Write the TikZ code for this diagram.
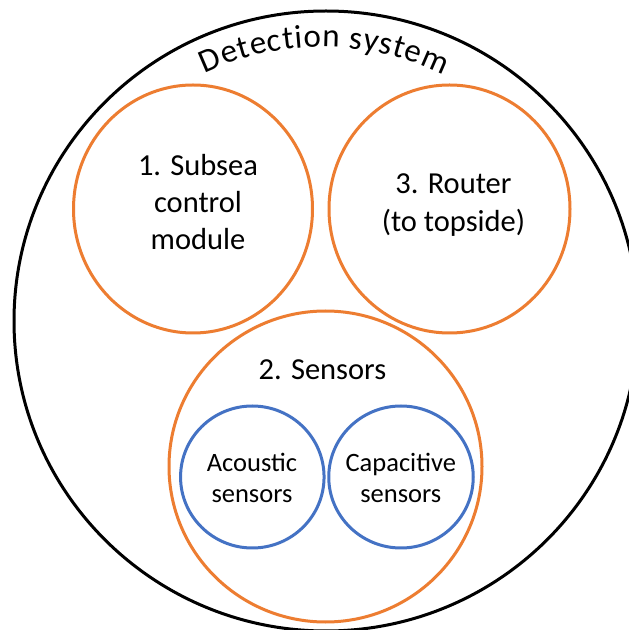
\documentclass[tikz,border=0pt]{standalone}
\usepackage{fontspec}
\setmainfont{Carlito}
\usetikzlibrary{shapes.geometric,decorations.text}
\definecolor{offorange}{HTML}{ED7D31}
\definecolor{offblue}{HTML}{4472C4}
\tikzset{
  ring/.style={draw, ellipse, inner sep=0pt, outer sep=0pt, line width=3pt},
  outerring/.style={ring, draw=black},
  orangering/.style={ring, draw=offorange},
  bluering/.style={ring, draw=offblue},
  bigtxt/.style={inner sep=0pt, anchor=base, font=\fontsize{30.5}{36}\selectfont},
  smalltxt/.style={inner sep=0pt, anchor=base, font=\fontsize{26.5}{31}\selectfont}
}
\begin{document}
\begin{tikzpicture}[x=1pt,y=1pt]
\useasboundingbox (0,0) rectangle (629,630);
\clip (0,0) rectangle (629,630);
\fill[white] (0,0) rectangle (629,630);
% outer system
\node[outerring, minimum width=624pt, minimum height=620pt] (sys) at (326,309) {};
\path[decorate, decoration={text along path, text align={fit to path},
  text={|\fontsize{33}{38}\selectfont|Detection system}}]
  (322,309) ++(115.3:274pt) arc[start angle=115.3, end angle=63.8, radius=274pt];
% subsea control module
\node[orangering, minimum width=239pt, minimum height=248pt] (scm) at (193,421) {};
\node[bigtxt] (scm1) at (198,454) {1. Subsea};
\node[bigtxt] (scm2) at (198,417.3) {control};
\node[bigtxt] (scm3) at (198,380.7) {module};
% router
\node[orangering, minimum width=241pt, minimum height=248pt] (rtr) at (449.5,421) {};
\node[bigtxt] (rtr1) at (453.5,436) {3. Router};
\node[bigtxt] (rtr2) at (453.5,398.5) {(to topside)};
% sensors
\node[orangering, minimum width=313pt, minimum height=311pt] (sen) at (325.5,163.5) {};
\node[bigtxt] (sen1) at (322.5,250) {2. Sensors};
\node[bluering, minimum width=143.5pt, minimum height=142pt] (aco) at (252.3,153) {};
\node[smalltxt] (aco1) at (252,158.3) {Acoustic};
\node[smalltxt] (aco2) at (252,127.3) {sensors};
\node[bluering, minimum width=144.5pt, minimum height=142pt] (cap) at (401,153) {};
\node[smalltxt] (cap1) at (400.8,158.3) {Capacitive};
\node[smalltxt] (cap2) at (400.8,127.3) {sensors};
\end{tikzpicture}
\end{document}
